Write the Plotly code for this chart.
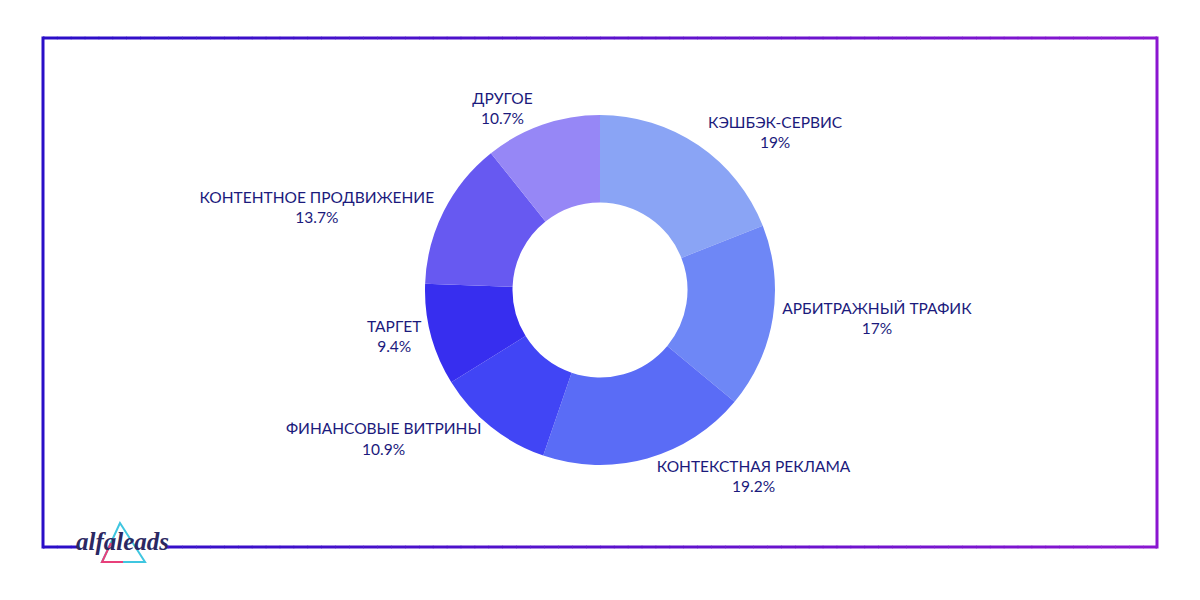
import plotly.graph_objects as go

labels = ["КЭШБЭК-СЕРВИС", "АРБИТРАЖНЫЙ ТРАФИК", "КОНТЕКСТНАЯ РЕКЛАМА",
          "ФИНАНСОВЫЕ ВИТРИНЫ", "ТАРГЕТ", "КОНТЕНТНОЕ ПРОДВИЖЕНИЕ", "ДРУГОЕ"]
values = [19, 17, 19.2, 10.9, 9.4, 13.7, 10.7]
colors = ["#8AA4F5", "#6E87F6", "#5A6CF6", "#4145F5", "#372EEF", "#6759F1", "#9687F6"]

W, H = 1200, 600
fig = go.Figure()
fig.add_trace(go.Pie(
    labels=labels, values=values, hole=0.5, sort=False, direction="clockwise",
    rotation=0, marker=dict(colors=colors, line=dict(width=0)),
    texttemplate="%{label}<br>%{value}%", textposition="outside",
    textfont=dict(family="Lato", size=15.5, color="#1B1A7C"),
    domain=dict(x=[0, 1], y=[1 - 465 / H, 1 - 115 / H]),
    automargin=False, showlegend=False, hoverinfo="label+value",
))

# gradient border
x0, x1, y0, y1 = 43, 1157, 38, 547
c0, c1 = (42, 14, 200), (138, 22, 208)
def col(t):
    return "rgb(%d,%d,%d)" % tuple(round(a + (b - a) * t) for a, b in zip(c0, c1))
shapes = []
N = 80
for i in range(N):
    xa = x0 + (x1 - x0) * i / N
    xb = x0 + (x1 - x0) * (i + 1) / N + 0.5
    c = col((i + 0.5) / N)
    for y in (y0, y1):
        shapes.append(dict(type="line", xref="paper", yref="paper",
                           x0=xa / W, x1=min(xb, x1) / W, y0=1 - y / H, y1=1 - y / H,
                           line=dict(color=c, width=3)))
shapes.append(dict(type="line", xref="paper", yref="paper", x0=x0 / W, x1=x0 / W,
                   y0=1 - (y0 - 1.5) / H, y1=1 - (y1 + 1.5) / H, line=dict(color=col(0), width=3)))
shapes.append(dict(type="line", xref="paper", yref="paper", x0=x1 / W, x1=x1 / W,
                   y0=1 - (y0 - 1.5) / H, y1=1 - (y1 + 1.5) / H, line=dict(color=col(1), width=3)))
# logo background to break border
shapes.append(dict(type="rect", xref="paper", yref="paper", x0=77 / W, x1=167 / W,
                   y0=1 - 552 / H, y1=1 - 541 / H, fillcolor="white", line=dict(width=0)))
# logo triangle
shapes.append(dict(type="path", xref="paper", yref="paper",
                   path="M %f,%f L %f,%f L %f,%f Z" % (120 / W, 1 - 523 / H, 102 / W, 1 - 562 / H, 145 / W, 1 - 562 / H),
                   line=dict(color="#3FC6E0", width=2)))
shapes.append(dict(type="path", xref="paper", yref="paper",
                   path="M %f,%f L %f,%f L %f,%f" % (111 / W, 1 - 543 / H, 102 / W, 1 - 562 / H, 123 / W, 1 - 562 / H),
                   line=dict(color="#E8407A", width=2)))

fig.update_layout(
    width=W, height=H, margin=dict(l=0, r=0, t=0, b=0, autoexpand=False),
    paper_bgcolor="white", plot_bgcolor="white", shapes=shapes,
    annotations=[dict(text="<i><b>alfaleads</b></i>", xref="paper", yref="paper",
                      x=122 / W, y=1 - 541 / H, xanchor="center", yanchor="middle",
                      showarrow=False,
                      font=dict(family="Liberation Serif", size=25, color="#2B2862"))],
)
fig.write_html("out.html")
